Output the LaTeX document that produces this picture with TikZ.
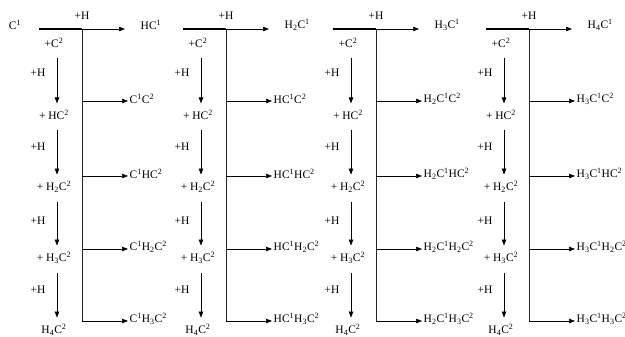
\documentclass[tikz,border=0pt]{standalone}
\usepackage{fontspec}
\setmainfont{Liberation Serif}
\usetikzlibrary{arrows.meta, positioning}

\newcommand{\Ca}{C\textsuperscript{1}}
\newcommand{\Cb}{C\textsuperscript{2}}
\newcommand{\Hx}[1]{H\textsubscript{#1}}

\tikzset{
  chem/.style={font=\fontsize{11.5}{14}\selectfont, inner sep=1.5pt},
  trunk/.style={line width=1pt, black!85},
  feed/.style={line width=1.3pt, black},
  branch/.style={line width=0.6pt, -{Triangle[length=6pt,width=4.5pt]}},
}

\begin{document}
\begin{tikzpicture}[x=1pt, y=-1pt]
\useasboundingbox (0,0) rectangle (625,337);

% start species
\node[chem] (c1) at (15,25) {\Ca};

\foreach \p/\sx/\pre/\nxt in {1/39/{\Ca}/{H\Ca},
                              2/183/{H\Ca}/{\Hx{2}\Ca},
                              3/333/{\Hx{2}\Ca}/{\Hx{3}\Ca},
                              4/486/{\Hx{3}\Ca}/{\Hx{4}\Ca}}{
  \pgfmathsetmacro{\vx}{\sx+43}
  \pgfmathsetmacro{\ax}{\sx+18}
  % main line: +H on the first carbon
  \coordinate (s\p) at (\sx,29);
  \coordinate (t\p) at (\vx,29);
  \coordinate (e\p) at (\vx,321);
  \coordinate (a\p) at (\ax,0);
  \node[chem] (h\p) at (\vx,16) {+H};
  \node[chem, anchor=west] (n\p) at (\sx+100,25) {\nxt};
  \draw[feed] (s\p) -- (t\p);
  \draw[trunk] (t\p) -- (e\p);
  \draw[branch, shorten >=14pt] (t\p) -- (t\p -| n\p.west);
  % products with the second carbon
  \foreach \k/\by/\frag in {1/101/{\Cb}, 2/176/{H\Cb},
                            3/249/{\Hx{2}\Cb}, 4/321/{\Hx{3}\Cb}}{
    \coordinate (b\p-\k) at (\vx,\by);
    \node[chem, anchor=west] (r\p-\k) at (\sx+89,\by-2) {\pre\frag};
    \draw[branch] (b\p-\k) -- (b\p-\k -| r\p-\k.west);
  }
  % second carbon chain
  \foreach \k/\ly/\txt in {0/43/{+\Cb}, 1/115/{+ H\Cb}, 2/187/{+ \Hx{2}\Cb},
                           3/258/{+ \Hx{3}\Cb}, 4/330/{\Hx{4}\Cb}}{
    \node[chem] (l\p-\k) at (\ax-3,\ly) {\txt};
  }
  \foreach \k/\hy in {0/73, 1/147, 2/221, 3/290}{
    \pgfmathtruncatemacro{\j}{\k+1}
    \node[chem] (g\p-\k) at (\sx-1,\hy) {+H};
    \draw[branch, shorten <=8pt, shorten >=5pt]
      (l\p-\k.south -| a\p) -- (l\p-\j.north -| a\p);
  }
}
\end{tikzpicture}
\end{document}
